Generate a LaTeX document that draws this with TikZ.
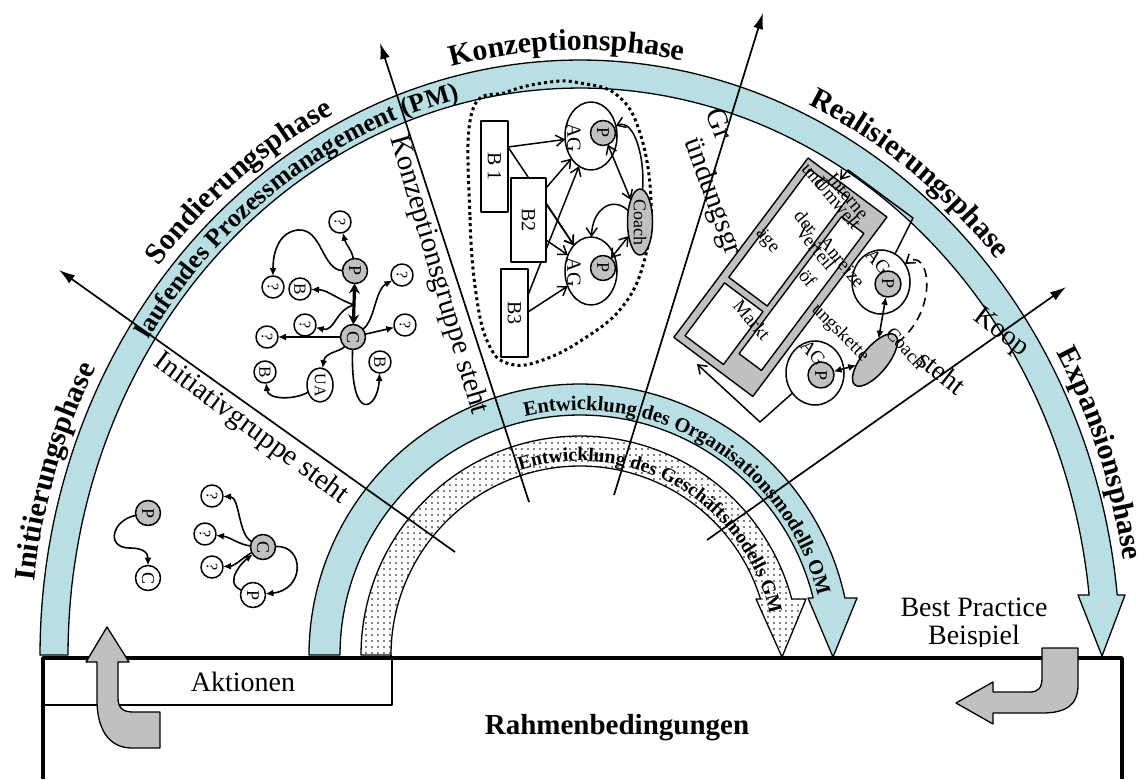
\documentclass[tikz,border=0pt]{standalone}
\usepackage{fontspec}
\setmainfont{Liberation Serif}
\usetikzlibrary{arrows.meta,decorations.text,patterns.meta,shapes.geometric}
\definecolor{bandblue}{RGB}{184,223,227}
\definecolor{ngray}{RGB}{192,192,192}
\newcommand\myfs[1]{\fontsize{#1}{#1}\selectfont}
\newcommand\phasefont{\bfseries\fontsize{30}{30}\selectfont}
\newcommand\pmfont{\bfseries\fontsize{26}{26}\selectfont}
\newcommand\omfont{\bfseries\fontsize{20.5}{20.5}\selectfont}
\newcommand\gmfont{\bfseries\fontsize{19.4}{19.4}\selectfont}
\tikzset{
 every node/.style={inner sep=0pt, outer sep=0pt},
 gnode/.style={circle, draw, line width=1.5pt, fill=ngray, minimum size=25pt, font=\myfs{18}, rotate=-90},
 wnode/.style={gnode, fill=white},
 qnode/.style={circle, draw, line width=1.5pt, fill=white, minimum size=22pt, font=\myfs{16}, rotate=-90},
 arr/.style={line width=1.6pt, -{Latex[length=8pt,width=7pt]}},
 karr/.style={line width=1.5pt, -{Straight Barb[length=8pt,width=11pt]}},
 karrb/.style={line width=1.5pt, {Straight Barb[length=8pt,width=11pt]}-{Straight Barb[length=8pt,width=11pt]}},
 ray/.style={line width=1.7pt, -{Latex[length=16pt,width=10pt]}},
 bandst/.style={line width=1.3pt, fill=bandblue},
 lbl/.style={font=\myfs{29}},
 rtxt/.style={font=\myfs{19}, rotate=-50},
}
\begin{document}
\begin{tikzpicture}[x=1pt,y=-1pt,line join=round]
\useasboundingbox (0,0) rectangle (1142,779);
\fill[white] (0,0) rectangle (1142,779);

% ---------- bands ----------
\filldraw[bandst] plot[domain=180:5.79,samples=150,variable=\t] ({580+540*cos(\t)},{655-595*sin(\t)})
  -- (1125,595) -- (1102,656) -- (1078,595)
  -- plot[domain=6.07:180,samples=150,variable=\t] ({580+512*cos(\t)},{655-567*sin(\t)}) -- cycle;
\filldraw[bandst] plot[domain=180:12.14,samples=120,variable=\t] ({580+271*cos(\t)},{655-271*sin(\t)})
  -- (857,598) -- (833,657) -- (808,598)
  -- plot[domain=13.74:180,samples=120,variable=\t] ({580+240*cos(\t)},{655-240*sin(\t)}) -- cycle;
\draw[line width=1.3pt, preaction={fill=white}, pattern={Dots[distance=6pt,radius=0.8pt]}]
  plot[domain=180:14.81,samples=120,variable=\t] ({580+219*cos(\t)},{655-219*sin(\t)})
  -- (806,599) -- (782,657) -- (756,599)
  -- plot[domain=17.24:180,samples=120,variable=\t] ({580+189*cos(\t)},{655-189*sin(\t)}) -- cycle;
\draw[line width=1.3pt] (391,655) -- (391,668);

% ---------- radiating lines ----------
\coordinate (a1) at (455,552); \coordinate (b1) at (59,270);
\coordinate (a2) at (529,502); \coordinate (b2) at (380,43);
\coordinate (a3) at (614,495); \coordinate (b3) at (763,13);
\coordinate (a4) at (707,540); \coordinate (b4) at (1066,287);
\draw[ray] (a1) -- (b1);
\draw[ray] (a2) -- (b2);
\draw[ray] (a3) -- (b3);
\draw[ray] (a4) -- (b4);

% ---------- texts along arcs ----------
\path[decorate,decoration={text along path,text={|\phasefont|Initiierungsphase}}]
  plot[domain=173:110,samples=120,variable=\t] ({580+550*cos(\t)},{655-605*sin(\t)});
\path[decorate,decoration={text along path,text={|\phasefont|Sondierungsphase}}]
  plot[domain=140:95,samples=120,variable=\t] ({580+550*cos(\t)},{655-605*sin(\t)});
\path[decorate,decoration={text along path,text={|\phasefont|Konzeptionsphase}}]
  plot[domain=103.5:55,samples=120,variable=\t] ({580+550*cos(\t)},{655-605*sin(\t)});
\path[decorate,decoration={text along path,text={|\phasefont|Realisierungsphase}}]
  plot[domain=65.5:20,samples=120,variable=\t] ({580+550*cos(\t)},{655-605*sin(\t)});
\path[decorate,decoration={text along path,text={|\phasefont|Expansionsphase}}]
  plot[domain=30:-10,samples=120,variable=\t] ({580+550*cos(\t)},{655-605*sin(\t)});
\path[decorate,decoration={text along path,text={|\pmfont|laufendes Prozessmanagement (PM)}}]
  plot[domain=146.5:70,samples=150,variable=\t] ({580+517*cos(\t)},{655-572*sin(\t)});
\path[decorate,decoration={text along path,text={|\omfont|Entwicklung des Organisationsmodells OM}}]
  plot[domain=103:0,samples=150,variable=\t] ({580+245*cos(\t)},{655-245*sin(\t)});
\path[decorate,decoration={text along path,text={|\gmfont|Entwicklung des Geschäftsmodells GM}}]
  plot[domain=108:0,samples=150,variable=\t] ({580+194*cos(\t)},{655-194*sin(\t)});

% ---------- line labels ----------
\node[lbl, rotate=-36.5] (tini) at (251,429) {Initiativgruppe steht};
\node[lbl, rotate=-73.5] (tkon) at (438,275) {Konzeptionsgruppe steht};
\node[lbl, rotate=-70] (tgr1) at (720,124) {Gr};
\node[lbl, rotate=-70] (tgr2) at (712,197) {ündungsgr};
\node[font=\myfs{28}, rotate=-37] (tkoop) at (1001,333) {Koop};
\node[font=\myfs{28}, rotate=-38] (tsteht) at (942,372) {steht};

% ---------- Initiierung network ----------
\node[gnode] (iP) at (148,513) {P};
\node[wnode] (iC) at (148,578) {C};
\draw[arr] (iP) .. controls (112,520) and (105,548) .. (130,548) .. controls (142,548) and (148,552) .. (iC);
\node[gnode] (iC2) at (263,547) {C};
\node[qnode] (iq1) at (212,496) {?};
\node[qnode] (iq2) at (205,534) {?};
\node[qnode] (iq3) at (212,567) {?};
\node[wnode] (iP2) at (253,595) {P};
\draw[arr] (iC2) .. controls (238,535) and (240,497) .. (iq1);
\draw[arr] (iC2) .. controls (240,545) and (230,537) .. (iq2);
\draw[arr] (iC2) .. controls (245,556) and (235,566) .. (iq3);
\draw[arr] (iP2) .. controls (222,582) and (245,560) .. (iC2);
\draw[arr] (iC2) .. controls (305,545) and (305,590) .. (iP2);

% ---------- Sondierung network ----------
\node[gnode] (sP) at (355,271) {P};
\node[gnode] (sC) at (353,337) {C};
\node[qnode] (sq1) at (340,222) {?};
\node[qnode] (sq2) at (273,287) {?};
\node[qnode, font=\myfs{17}] (sB1) at (300,289) {B};
\node[qnode] (sq3) at (305,325) {?};
\node[qnode] (sq4) at (267,337) {?};
\node[qnode] (sq5) at (402,275) {?};
\node[qnode] (sq6) at (405,325) {?};
\node[qnode, font=\myfs{17}] (sB2) at (265,372) {B};
\node[ellipse, draw, line width=1.5pt, fill=white, rotate=-90, minimum width=34pt, minimum height=26pt, font=\myfs{16}] (sUA) at (320,385) {UA};
\node[qnode, font=\myfs{17}] (sB3) at (380,362) {B};
\coordinate (smid) at (354,305);
\draw[arr] (sP) .. controls (352,250) and (346,245) .. (sq1);
\draw[arr] (sP) .. controls (322,270) and (322,228) .. (298,230) .. controls (280,232) and (273,250) .. (sq2);
\draw[arr] (smid) .. controls (335,298) and (328,290) .. (sB1);
\draw[arr] (smid) .. controls (335,310) and (335,332) .. (sq3);
\draw[arr] (sC) -- (sq4);
\draw[arr] (sC) .. controls (375,320) and (375,290) .. (sq5);
\draw[arr] (sC) -- (sq6);
\draw[arr] (sC) .. controls (340,352) and (325,352) .. (sUA);
\draw[arr] (sUA) .. controls (295,400) and (268,400) .. (sB2);
\draw[arr] (sC) .. controls (350,425) and (378,410) .. (sB3);
\draw[line width=3.2pt, {Stealth[length=10pt,width=11pt]}-{Stealth[length=10pt,width=11pt]}] (sP) -- (sC);

% ---------- Konzeption network ----------
\draw[line width=3pt, dash pattern=on 3pt off 3.2pt] plot[smooth cycle, tension=0.7] coordinates
  {(472,112) (470,217) (477,300) (490,347) (510,364) (540,361) (582,340) (623,306) (645,258) (651,200) (640,133) (617,95) (580,83) (550,82) (507,92)};
\node[ellipse, draw, fill=white, line width=1.5pt, minimum width=52pt, minimum height=68pt] (kAG1) at (591,136) {};
\node[ellipse, draw, fill=white, line width=1.5pt, minimum width=52pt, minimum height=68pt] (kAG2) at (591,271) {};
\node[rotate=-90, font=\myfs{20}] (kAG1t) at (574,138) {AG};
\node[rotate=-90, font=\myfs{20}] (kAG2t) at (574,272) {AG};
\node[gnode] (kP1) at (603,133) {P};
\node[gnode] (kP2) at (603,268) {P};
\node[ellipse, draw, fill=ngray, line width=1.5pt, rotate=-90, minimum width=66pt, minimum height=25pt, font=\myfs{18}] (kCo) at (640,222) {Coach};
\coordinate (kB1a) at (508,147);
\coordinate (kB2a) at (546,188);
\coordinate (kB2b) at (546,203);
\coordinate (kB2c) at (546,240);
\coordinate (kB3a) at (528,295);
\coordinate (kB3b) at (528,312);
\draw[karr] (kB1a) -- (kAG1);
\draw[karr] (kB1a) -- (kAG2);
\draw[karr] (kB2a) -- (kAG1);
\draw[karr] (kB2b) -- (kAG2);
\draw[karr] (kB2c) -- (kAG2);
\draw[karr] (kB3a) -- (kAG1);
\draw[karr] (kB3b) -- (kAG2);
\node[draw, fill=white, line width=1.5pt, rotate=-90, minimum width=91pt, minimum height=27pt, font=\myfs{20}] (kB1) at (494.5,166.5) {B 1};
\node[draw, fill=white, line width=1.5pt, rotate=-90, minimum width=84pt, minimum height=35pt, font=\myfs{20}] (kB2) at (528.5,220) {B2};
\node[draw, fill=white, line width=1.5pt, rotate=-90, minimum width=88pt, minimum height=27pt, font=\myfs{20}] (kB3) at (514.5,313) {B3};
\draw[karrb] (kP1) -- (kCo);
\draw[karr] (kCo) .. controls (645,160) and (635,118) .. (kAG1);
\draw[karr] (kCo) .. controls (612,195) and (592,210) .. (kAG2);
\draw[karrb] (kCo) -- (kP2);

% ---------- Realisierung area ----------
\begin{scope}[shift={(808,158)}, rotate=-36.8, line width=1.4pt]
  \filldraw[fill=ngray] (0,0) rectangle (98.6,224);
  \filldraw[fill=white] (8,8) rectangle (56,143);
  \filldraw[fill=white] (8,150) rectangle (56,216);
  \filldraw[fill=white] (62,27) rectangle (90,198);
\end{scope}
\node[ellipse, draw, fill=white, line width=1.5pt, minimum width=58pt, minimum height=64pt] (rAG3) at (881,282) {};
\node[ellipse, draw, fill=white, line width=1.5pt, minimum width=58pt, minimum height=64pt] (rAG4) at (815,373) {};
\node[gnode, minimum size=26pt] (rP3) at (888,284) {P};
\node[gnode, minimum size=26pt] (rP4) at (821,375) {P};
\node[ellipse, draw, fill=ngray, line width=1.5pt, rotate=51, minimum width=64pt, minimum height=26pt] (rCo) at (875,360) {};
\coordinate (rc1) at (913,218); \coordinate (rc2) at (848,170); \coordinate (rc3) at (840,180);
\coordinate (rc4) at (760,422); \coordinate (rc5) at (697,364);
\draw[karr] (rAG3) -- (rc1) -- (rc2) -- (rc3);
\draw[karr] (rAG4) -- (rc4) -- (rc5);
\draw[line width=1.6pt, {Latex[length=8pt,width=7pt]}-{Latex[length=8pt,width=7pt]}] (rP3) -- (rCo);
\draw[line width=1.6pt, {Latex[length=8pt,width=7pt]}-{Latex[length=8pt,width=7pt]}] (rCo) -- (rP4);
\draw[line width=1.6pt, dash pattern=on 9pt off 6pt, -{Straight Barb[length=8pt,width=11pt]}] (rCo) .. controls (940,310) and (930,245) .. (rAG3);
\node[rtxt] (rt1) at (815,176) {und};
\node[rtxt] (rt2) at (848,196) {Interne};
\node[rtxt] (rt3) at (838,203) {Umwelt};
\node[rtxt] (rt4) at (806,222) {der};
\node[rtxt] (rt5) at (816,248) {Verteil};
\node[rtxt] (rt6) at (842,262) {Anreize};
\node[rtxt] (rt7) at (808,278) {öf};
\node[rtxt] (rt8) at (767,241) {äge};
\node[rtxt] (rt9) at (752,320) {Markt};
\node[rtxt, rotate=5] (rt10) at (840,333) {ungskette};
\node[rtxt] (rt11) at (813,353) {AG};
\node[rtxt] (rt12) at (878,262) {AG};
\node[rtxt, rotate=2] (rt13) at (906,348) {Coach};

% ---------- bottom ----------
\filldraw[fill=white, line width=1.3pt] (43,658) rectangle (392,705);
\draw[line width=3.5pt] (43,779) -- (43,658) -- (1122,658) -- (1122,779);
\filldraw[fill=ngray, line width=1.3pt] (107,627) -- (129,662) -- (118,662) -- (118,698)
  .. controls (118,708) and (123,712) .. (133,712) -- (160,712) -- (160,748) -- (132,748)
  .. controls (108,748) and (97,728) .. (97,700) -- (97,662) -- (86,662) -- cycle;
\filldraw[fill=ngray, line width=1.3pt] (1042,648) -- (1078,648) -- (1078,685)
  .. controls (1078,705) and (1066,713) .. (1042,713) -- (993,713) -- (993,724) -- (956,703)
  -- (993,682) -- (993,692) -- (1030,692) .. controls (1038,692) and (1042,688) .. (1042,678) -- cycle;
\node[font=\myfs{28}] (akt) at (243,682) {Aktionen};
\node[font=\bfseries\myfs{29}] (rahmen) at (617,728) {Rahmenbedingungen};
\begin{scope}
  \clip (890,585) rectangle (1060,646);
  \node[align=center, font=\myfs{28}] (bp) at (974,624) {Best Practice\\Beispiel};
\end{scope}
\end{tikzpicture}
\end{document}
